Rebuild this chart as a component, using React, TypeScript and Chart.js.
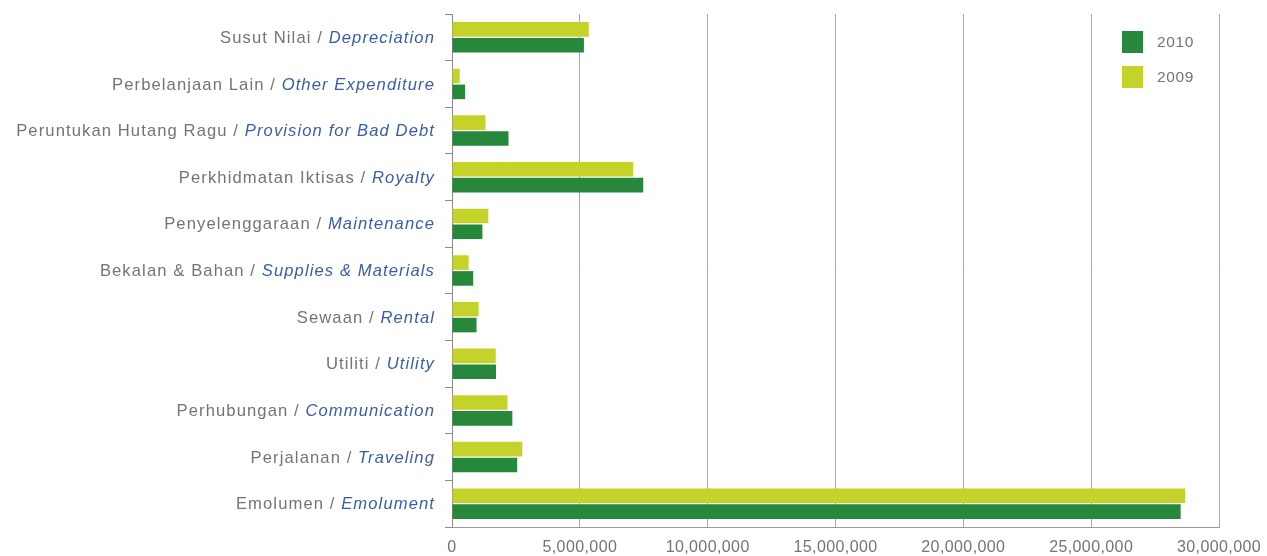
import React, { useEffect, useRef } from "react";
import { Chart, registerables } from "chart.js";

Chart.register(...registerables);

const labelsMalay = [
  "Susut Nilai",
  "Perbelanjaan Lain",
  "Peruntukan Hutang Ragu",
  "Perkhidmatan Iktisas",
  "Penyelenggaraan",
  "Bekalan & Bahan",
  "Sewaan",
  "Utiliti",
  "Perhubungan",
  "Perjalanan",
  "Emolumen",
];
const labelsEnglish = [
  "Depreciation",
  "Other Expenditure",
  "Provision for Bad Debt",
  "Royalty",
  "Maintenance",
  "Supplies & Materials",
  "Rental",
  "Utility",
  "Communication",
  "Traveling",
  "Emolument",
];
const values2009 = [
  5350000, 300000, 1310000, 7090000, 1420000, 650000, 1040000, 1710000, 2170000, 2750000, 28680000,
];
const values2010 = [
  5160000, 510000, 2210000, 7480000, 1190000, 830000, 960000, 1720000, 2360000, 2550000, 28500000,
];
const xTicksMax = 30000000;
const xTickStep = 5000000;

const FONT = "'Liberation Sans', Arial, Helvetica, sans-serif";
const GRAY_TEXT = "#747474";
const BLUE_TEXT = "#3b5ca8";
const LIGHT = "#c4d22a";
const DARK = "#27873a";

const spacingPlugin = {
  id: "spacing",
  beforeDraw(chart: any) {
    chart.ctx.letterSpacing = "0.4px";
  },
  afterDraw(chart: any) {
    chart.ctx.letterSpacing = "0px";
  },
};

const yLabelPlugin = {
  id: "yLabels",
  afterDraw(chart: any) {
    const ctx = chart.ctx;
    const yScale = chart.scales.y;
    const xRight = chart.chartArea.left - 17;
    ctx.save();
    ctx.letterSpacing = "1.1px";
    ctx.textBaseline = "middle";
    ctx.textAlign = "left";
    labelsMalay.forEach((m, i) => {
      const y = yScale.getPixelForValue(i) + 1;
      const en = labelsEnglish[i];
      ctx.font = `italic 16.6px ${FONT}`;
      const wEn = ctx.measureText(en).width;
      ctx.font = `16.6px ${FONT}`;
      const prefix = m + " / ";
      const wM = ctx.measureText(prefix).width;
      const start = xRight - wEn - wM;
      ctx.fillStyle = GRAY_TEXT;
      ctx.fillText(prefix, start, y);
      ctx.font = `italic 16.6px ${FONT}`;
      ctx.fillStyle = BLUE_TEXT;
      ctx.fillText(en, start + wM, y);
    });
    ctx.restore();
  },
};

const legendPlugin = {
  id: "insideLegend",
  afterDraw(chart: any) {
    const ctx = chart.ctx;
    const area = chart.chartArea;
    const items = [chart.data.datasets[1], chart.data.datasets[0]];
    const x = area.right - 97;
    ctx.save();
    ctx.letterSpacing = "0.6px";
    ctx.font = `15.5px ${FONT}`;
    ctx.textBaseline = "middle";
    ctx.textAlign = "left";
    items.forEach((ds: any, i: number) => {
      const top = area.top + 17 + i * 35;
      ctx.fillStyle = ds.backgroundColor;
      ctx.fillRect(x, top, 21, 22);
      ctx.fillStyle = GRAY_TEXT;
      ctx.fillText(ds.label, x + 35, top + 12);
    });
    ctx.restore();
  },
};

export default function App() {
  const ref = useRef<HTMLCanvasElement | null>(null);
  useEffect(() => {
    if (!ref.current) return;
    const chart = new Chart(ref.current, {
      type: "bar",
      data: {
        labels: labelsEnglish,
        datasets: [
          { label: "2009", data: values2009, backgroundColor: LIGHT },
          { label: "2010", data: values2010, backgroundColor: DARK },
        ],
      },
      options: {
        indexAxis: "y",
        animation: false,
        responsive: false,
        maintainAspectRatio: false,
        layout: { padding: { top: 14, right: 0, left: 0, bottom: 0 } },
        datasets: {
          bar: { categoryPercentage: 0.68, barPercentage: 0.92 },
        },
        plugins: {
          legend: { display: false },
          tooltip: { enabled: false },
        },
        scales: {
          x: {
            min: 0,
            max: xTicksMax,
            ticks: {
              stepSize: xTickStep,
              padding: 11,
              color: GRAY_TEXT,
              font: { family: FONT, size: 16 },
              callback: (v: any) => Number(v).toLocaleString("en-US"),
            },
            grid: { color: "#a8a8a8", lineWidth: 1, drawTicks: false },
            border: { display: true, color: "#9a9a9a" },
            afterFit: (s: any) => {
              s.height = 29;
              s.paddingRight = 48;
              s.paddingLeft = 0;
            },
          },
          y: {
            ticks: { display: false },
            grid: {
              drawOnChartArea: false,
              drawTicks: true,
              tickLength: 7,
              offset: true,
              color: "#8a8a8a",
            },
            border: { display: true, color: "#8a8a8a" },
            afterFit: (s: any) => {
              s.width = 452;
            },
          },
        },
      },
      plugins: [spacingPlugin, yLabelPlugin, legendPlugin],
    });
    return () => chart.destroy();
  }, []);
  return (
    <div style={{ position: "absolute", left: 0, top: 0, width: 1267, height: 556, background: "#fff" }}>
      <canvas ref={ref} width={1267} height={556} style={{ display: "block" }} />
    </div>
  );
}
